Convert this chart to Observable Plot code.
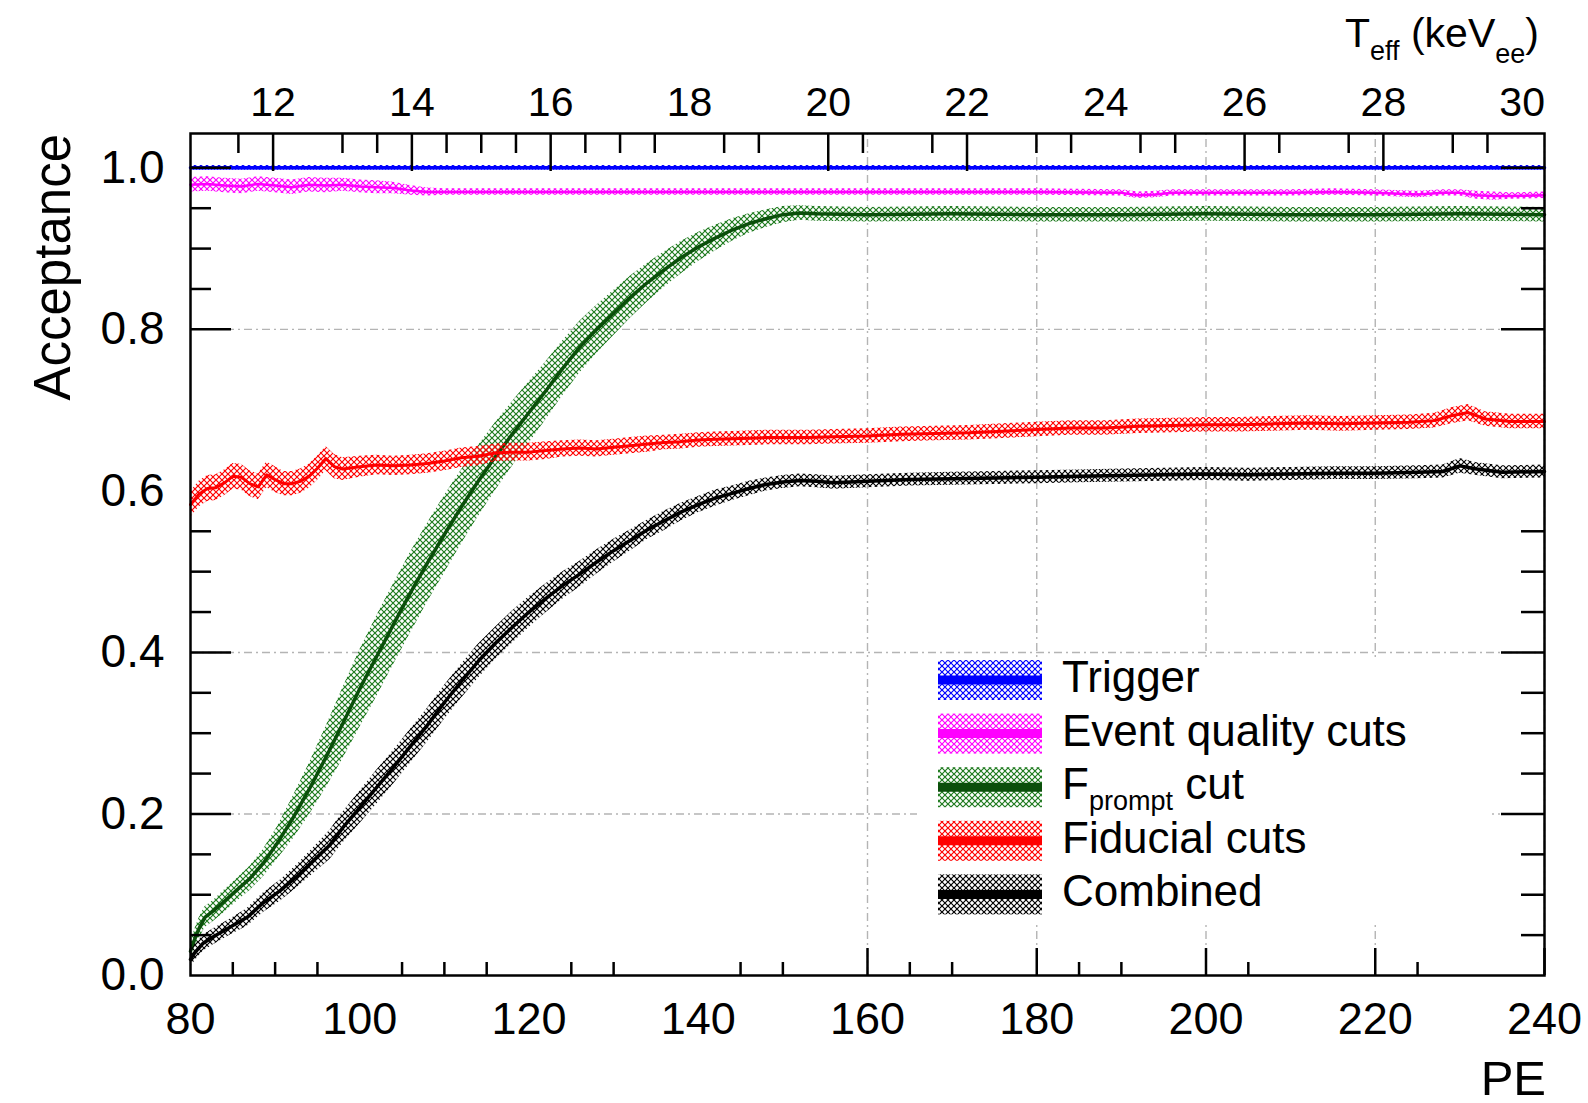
<!DOCTYPE html>
<html>
<head>
<meta charset="utf-8">
<script src="https://cdn.jsdelivr.net/npm/d3@7"></script>
<script src="https://cdn.jsdelivr.net/npm/@observablehq/plot@0.6"></script>
<style>
  html, body { margin: 0; padding: 0; background: #fff; }
  #chart svg { display: block; }
</style>
</head>
<body>
<div id="chart"></div>
<script>
// Acceptance vs. PE for each analysis cut: [PE, acceptance, band half-width]
const trigger = [[80, 1.0, 0.003], [240, 1.0, 0.003]];

const eventQuality = [
  [80, 0.979, 0.009], [82, 0.980, 0.009], [84, 0.978, 0.009], [86, 0.977, 0.009],
  [88, 0.980, 0.009], [90, 0.978, 0.009], [92, 0.976, 0.009], [94, 0.979, 0.009],
  [96, 0.978, 0.009], [98, 0.979, 0.008], [100, 0.977, 0.008], [102, 0.976, 0.008],
  [104, 0.975, 0.007], [106, 0.972, 0.006], [108, 0.970, 0.005], [110, 0.970, 0.004],
  [115, 0.970, 0.004], [120, 0.970, 0.004], [130, 0.970, 0.004], [140, 0.970, 0.004],
  [150, 0.970, 0.004], [160, 0.970, 0.004], [170, 0.970, 0.004], [180, 0.970, 0.004],
  [190, 0.969, 0.004], [192, 0.966, 0.004], [194, 0.967, 0.004], [196, 0.969, 0.004],
  [200, 0.969, 0.004], [210, 0.969, 0.004], [215, 0.970, 0.004], [220, 0.969, 0.004],
  [225, 0.967, 0.004], [228, 0.969, 0.004], [230, 0.969, 0.004], [232, 0.966, 0.005],
  [234, 0.965, 0.005], [236, 0.965, 0.004], [240, 0.966, 0.004]
];

const fpromptCut = [
  [80, 0.030, 0.010], [80.5, 0.045, 0.012], [81, 0.058, 0.013], [81.7, 0.072, 0.013],
  [82.7, 0.080, 0.013], [84, 0.092, 0.014], [85.5, 0.106, 0.014], [87, 0.120, 0.015],
  [88.6, 0.139, 0.017], [90.2, 0.163, 0.020], [92, 0.193, 0.026], [94, 0.230, 0.032],
  [96, 0.270, 0.038], [98, 0.312, 0.044], [100, 0.355, 0.048], [102, 0.395, 0.050],
  [104, 0.435, 0.050], [106, 0.474, 0.050], [108, 0.511, 0.049], [110, 0.546, 0.048],
  [112, 0.580, 0.046], [114, 0.612, 0.044], [116, 0.642, 0.042], [118, 0.670, 0.040],
  [120, 0.697, 0.038], [122, 0.724, 0.036], [124, 0.752, 0.034], [126, 0.778, 0.032],
  [128, 0.800, 0.030], [130, 0.820, 0.028], [132, 0.840, 0.026], [134, 0.858, 0.024],
  [136, 0.874, 0.022], [138, 0.889, 0.020], [140, 0.902, 0.018], [142, 0.913, 0.016],
  [144, 0.923, 0.014], [146, 0.931, 0.012], [148, 0.937, 0.011], [150, 0.942, 0.010],
  [152, 0.944, 0.009], [154, 0.943, 0.009], [160, 0.942, 0.009], [170, 0.943, 0.009],
  [180, 0.942, 0.009], [190, 0.942, 0.009], [200, 0.943, 0.009], [210, 0.942, 0.009],
  [220, 0.942, 0.009], [230, 0.943, 0.009], [240, 0.942, 0.009]
];

const fiducialCuts = [
  [80, 0.583, 0.016], [81, 0.596, 0.016], [82, 0.603, 0.016], [83, 0.604, 0.016],
  [84, 0.610, 0.016], [85, 0.618, 0.016], [86, 0.617, 0.016], [87, 0.609, 0.016],
  [88, 0.605, 0.016], [89, 0.620, 0.016], [90, 0.614, 0.016], [91, 0.609, 0.015],
  [92, 0.609, 0.015], [93, 0.612, 0.015], [94, 0.618, 0.015], [95, 0.628, 0.015],
  [96, 0.640, 0.015], [97, 0.630, 0.015], [98, 0.627, 0.014], [100, 0.630, 0.013],
  [102, 0.632, 0.012], [104, 0.631, 0.012], [106, 0.632, 0.012], [108, 0.634, 0.012],
  [110, 0.637, 0.012], [112, 0.641, 0.012], [114, 0.643, 0.012], [116, 0.647, 0.011],
  [118, 0.648, 0.011], [120, 0.648, 0.011], [122, 0.650, 0.011], [124, 0.652, 0.010],
  [126, 0.653, 0.010], [128, 0.652, 0.010], [130, 0.654, 0.010], [132, 0.656, 0.010],
  [134, 0.658, 0.010], [136, 0.660, 0.009], [138, 0.661, 0.009], [140, 0.663, 0.009],
  [142, 0.664, 0.009], [145, 0.665, 0.009], [148, 0.666, 0.009], [150, 0.666, 0.009],
  [153, 0.666, 0.009], [156, 0.667, 0.009], [160, 0.668, 0.009], [164, 0.670, 0.009],
  [168, 0.671, 0.009], [172, 0.672, 0.009], [176, 0.674, 0.009], [180, 0.676, 0.009],
  [184, 0.678, 0.009], [188, 0.678, 0.009], [192, 0.680, 0.009], [196, 0.681, 0.009],
  [200, 0.682, 0.009], [204, 0.682, 0.009], [208, 0.683, 0.009], [212, 0.684, 0.009],
  [216, 0.683, 0.009], [220, 0.684, 0.009], [224, 0.685, 0.009], [227, 0.687, 0.009],
  [229, 0.693, 0.010], [231, 0.697, 0.010], [233, 0.689, 0.009], [236, 0.686, 0.009],
  [240, 0.686, 0.009]
];

const combined = [
  [80, 0.020, 0.010], [80.5, 0.028, 0.010], [81.5, 0.040, 0.010], [82.7, 0.048, 0.010],
  [84.7, 0.060, 0.010], [86.7, 0.072, 0.011], [88.6, 0.090, 0.012], [90.6, 0.105, 0.013],
  [92.6, 0.123, 0.014], [94.5, 0.142, 0.016], [96.5, 0.162, 0.018], [98, 0.183, 0.019],
  [100, 0.208, 0.020], [102, 0.233, 0.021], [104, 0.258, 0.021], [106, 0.284, 0.021],
  [108, 0.310, 0.021], [110, 0.338, 0.021], [112, 0.364, 0.021], [114, 0.389, 0.021],
  [116, 0.411, 0.020], [118, 0.431, 0.020], [120, 0.450, 0.019], [122, 0.467, 0.018],
  [124, 0.483, 0.017], [126, 0.497, 0.016], [128, 0.512, 0.015], [130, 0.526, 0.014],
  [132, 0.539, 0.013], [134, 0.552, 0.012], [136, 0.563, 0.012], [138, 0.574, 0.011],
  [140, 0.583, 0.010], [142, 0.591, 0.010], [144, 0.597, 0.009], [146, 0.603, 0.009],
  [148, 0.608, 0.008], [150, 0.611, 0.008], [152, 0.613, 0.008], [154, 0.612, 0.008],
  [156, 0.610, 0.008], [158, 0.611, 0.008], [160, 0.612, 0.008], [165, 0.614, 0.008],
  [170, 0.615, 0.008], [175, 0.616, 0.008], [180, 0.617, 0.008], [185, 0.618, 0.008],
  [190, 0.619, 0.008], [195, 0.620, 0.008], [200, 0.621, 0.008], [205, 0.620, 0.008],
  [210, 0.621, 0.008], [215, 0.622, 0.008], [220, 0.622, 0.008], [225, 0.623, 0.008],
  [228, 0.624, 0.008], [230, 0.631, 0.009], [232, 0.627, 0.008], [235, 0.623, 0.008],
  [240, 0.624, 0.008]
];

// Legend labels (subscripts marked with "_" and drawn smaller)
const seriesNames = ["Trigger", "Event quality cuts", "F_prompt cut", "Fiducial cuts", "Combined"];

// Bottom (PE) axis
const peLabels = [80, 100, 120, 140, 160, 180, 200, 220, 240];
const peMajorTicks = [160, 180, 200, 220, 240];
const peMinorTicks = [85, 90, 95, 105, 110, 115, 125, 130, 145, 150, 165, 170, 185, 190, 205, 225];
const peGrid = [160, 180, 200, 220, 240];

// Left/right (acceptance) axis
const accLabels = [0.0, 0.2, 0.4, 0.6, 0.8, 1.0];
const accMajorTicks = [0.2, 0.4, 0.8, 1.0];
const accMinorTicks = [0.05, 0.1, 0.15, 0.25, 0.3, 0.35, 0.45, 0.5, 0.55, 0.85, 0.9, 0.95];
const accGrid = [0.2, 0.4, 0.8];

// Top (T_eff, keVee) axis, tied to PE by the energy calibration
const keVLabels = [12, 14, 16, 18, 20, 22, 24, 26, 28, 30];
const keVMajorTicks = [12, 14, 16, 20, 22, 26, 28];
const keVMinorTicks = [11.5, 13, 13.5, 14.5, 15, 15.5, 16.5, 17, 17.5, 18.5, 19, 20.5, 21.5, 23, 23.5, 24.5, 25, 26.5, 27.5, 29, 29.5];
const pePerKeV = 8.2;
const peAt12keV = 89.76;
const keVtoPE = (t) => peAt12keV + (t - 12) * pePerKeV;

// ---- layout ----
const W = 1588, H = 1103;
const mL = 190, mR = 44, mT = 133, mB = 128;
const innerW = W - mL - mR, innerH = H - mT - mB;
const xMin = 80, xMax = 240, yMax = 1.0425;
const perPxX = (xMax - xMin) / innerW;
const perPxY = yMax / innerH;
const FONT = "'Liberation Sans', Arial, Helvetica, sans-serif";

const styles = [
  { key: "trigger",  data: trigger,      line: "#0000ff", hatch: "#0000ff", lw: 3.5 },
  { key: "quality",  data: eventQuality, line: "#ff00ff", hatch: "#ff00ff", lw: 2.5 },
  { key: "fprompt",  data: fpromptCut,   line: "#0b4f0b", hatch: "#1d7a1d", lw: 3.5 },
  { key: "fiducial", data: fiducialCuts, line: "#ff0000", hatch: "#ff0000", lw: 3 },
  { key: "combined", data: combined,     line: "#000000", hatch: "#000000", lw: 3.5 }
];

const rowsOf = (arr) => arr.map(([pe, acc, err]) => ({ pe, acc, lo: acc - err, hi: acc + err }));

const grid = { stroke: "#b4b4b4", strokeWidth: 1.4, strokeDasharray: "8,4,2,4" };
const tickStyle = { stroke: "black", strokeWidth: 2.5 };

const marks = [
  // grid
  Plot.ruleY(accGrid, { y: (d) => d, x1: xMin, x2: xMax, ...grid }),
  Plot.ruleX(peGrid, { x: (d) => d, y1: 0, y2: yMax, ...grid })
];

// bands and central curves
for (const s of styles) {
  const rows = rowsOf(s.data);
  marks.push(Plot.areaY(rows, { x: "pe", y1: "lo", y2: "hi", fill: `url(#hatch-${s.key})` }));
  marks.push(Plot.line(rows, { x: "pe", y: "acc", stroke: s.line, strokeWidth: s.lw }));
}

marks.push(
  Plot.frame({ stroke: "black", strokeWidth: 2.5 }),
  // bottom ticks (inward)
  Plot.ruleX(peMajorTicks, { x: (d) => d, y1: 0, y2: 27 * perPxY, ...tickStyle }),
  Plot.ruleX(peMinorTicks, { x: (d) => d, y1: 0, y2: 13 * perPxY, ...tickStyle }),
  // top ticks (inward)
  Plot.ruleX(keVMajorTicks, { x: keVtoPE, y1: yMax - 38 * perPxY, y2: yMax, ...tickStyle }),
  Plot.ruleX(keVMinorTicks, { x: keVtoPE, y1: yMax - 20 * perPxY, y2: yMax, ...tickStyle }),
  // left ticks
  Plot.ruleY(accMajorTicks, { y: (d) => d, x1: xMin, x2: xMin + 41 * perPxX, ...tickStyle }),
  Plot.ruleY(accMinorTicks, { y: (d) => d, x1: xMin, x2: xMin + 21 * perPxX, ...tickStyle }),
  // right ticks
  Plot.ruleY(accMajorTicks, { y: (d) => d, x1: xMax - 43 * perPxX, x2: xMax, ...tickStyle }),
  Plot.ruleY(accMinorTicks, { y: (d) => d, x1: xMax - 23 * perPxX, x2: xMax, ...tickStyle }),
  // tick labels
  Plot.text(peLabels, { x: (d) => d, y: 0, text: (d) => String(d), dy: 58, lineAnchor: "bottom", textAnchor: "middle", fontSize: 45, fill: "black" }),
  Plot.text(keVLabels, { x: keVtoPE, y: yMax, text: (d) => String(d), dy: -18, lineAnchor: "bottom", textAnchor: "middle", fontSize: 41, fill: "black" }),
  Plot.text(accLabels, { x: xMin, y: (d) => d, text: (d) => d.toFixed(1), dx: -26, lineAnchor: "middle", textAnchor: "end", fontSize: 46, fill: "black" })
);

const chart = Plot.plot({
  width: W,
  height: H,
  marginLeft: mL,
  marginRight: mR,
  marginTop: mT,
  marginBottom: mB,
  style: { fontFamily: FONT, background: "white", overflow: "visible" },
  x: { domain: [xMin, xMax], axis: null },
  y: { domain: [0, yMax], axis: null },
  marks
});

const svg = d3.select(chart);

// hatch patterns for the uncertainty bands
const defs = svg.insert("defs", ":first-child");
for (const s of styles) {
  const p = defs.append("pattern")
    .attr("id", `hatch-${s.key}`)
    .attr("patternUnits", "userSpaceOnUse")
    .attr("width", 6).attr("height", 6);
  p.append("path")
    .attr("d", "M0,0L6,6M6,0L0,6")
    .attr("stroke", s.hatch)
    .attr("stroke-width", 1.2)
    .attr("fill", "none");
}

// axis titles
svg.append("text")
  .attr("transform", "translate(70,134) rotate(-90)")
  .attr("text-anchor", "end")
  .attr("font-family", FONT).attr("font-size", 51)
  .text("Acceptance");

svg.append("text")
  .attr("x", 1546).attr("y", 1095)
  .attr("text-anchor", "end")
  .attr("font-family", FONT).attr("font-size", 49)
  .text("PE");

const topTitle = svg.append("text")
  .attr("x", 1345).attr("y", 47)
  .attr("text-anchor", "start")
  .attr("font-family", FONT).attr("font-size", 41);
topTitle.append("tspan").text("T");
topTitle.append("tspan").attr("font-size", 27).attr("dy", 13).text("eff");
topTitle.append("tspan").attr("dy", -13).text(" (keV");
topTitle.append("tspan").attr("font-size", 27).attr("dy", 16).text("ee");
topTitle.append("tspan").attr("dy", -16).text(")");

// legend
const legend = svg.append("g").attr("font-family", FONT).attr("text-anchor", "start");
legend.append("rect")
  .attr("x", 917).attr("y", 657).attr("width", 575).attr("height", 266)
  .attr("fill", "white");
const rowY0 = 680, rowStep = 53.6;
styles.forEach((s, i) => {
  const cy = rowY0 + i * rowStep;
  legend.append("rect")
    .attr("x", 938).attr("y", cy - 20).attr("width", 104).attr("height", 40)
    .attr("fill", `url(#hatch-${s.key})`);
  legend.append("line")
    .attr("x1", 938).attr("x2", 1042).attr("y1", cy).attr("y2", cy)
    .attr("stroke", s.line).attr("stroke-width", 9);
  const t = legend.append("text")
    .attr("x", 1062).attr("y", cy + 12)
    .attr("text-anchor", "start")
    .attr("font-size", 44);
  const name = seriesNames[i];
  if (name.includes("_")) {
    const [base, rest] = name.split("_");
    const [sub, ...tail] = rest.split(" ");
    t.append("tspan").text(base);
    t.append("tspan").attr("font-size", 27).attr("dy", 11).text(sub);
    t.append("tspan").attr("dy", -11).text(" " + tail.join(" "));
  } else {
    t.text(name);
  }
});

document.getElementById("chart").append(chart);
</script>
</body>
</html>
